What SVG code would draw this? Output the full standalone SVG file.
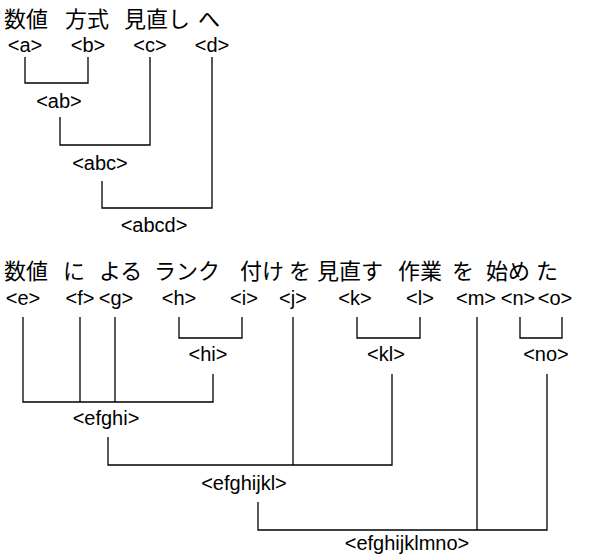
<svg xmlns="http://www.w3.org/2000/svg" width="592" height="560" viewBox="0 0 592 560">
<style>
.jp{font-family:"Noto Sans CJK JP","Noto Sans CJK SC",sans-serif;font-size:22px;fill:#000}
.lb{font-family:"Liberation Sans",Arial,sans-serif;font-size:20px;fill:#000;text-anchor:middle}
.cn{fill:none;stroke:#000;stroke-width:1.3}
</style>
<rect width="592" height="560" fill="#fff"/>
<g id="words1">
<text class="jp" x="4" y="27">数値</text>
<text class="jp" x="65" y="27">方式</text>
<text class="jp" x="124" y="27">見直し</text>
<text class="jp" x="198" y="27">へ</text>
</g>
<g id="node-a"><text class="lb" x="25" y="52">&lt;a&gt;</text></g>
<g id="node-b"><text class="lb" x="88" y="52">&lt;b&gt;</text></g>
<g id="node-c"><text class="lb" x="150" y="52">&lt;c&gt;</text></g>
<g id="node-d"><text class="lb" x="212" y="52">&lt;d&gt;</text></g>
<g id="node-ab"><text class="lb" x="59" y="108">&lt;ab&gt;</text></g>
<g id="node-abc"><text class="lb" x="100" y="170">&lt;abc&gt;</text></g>
<g id="node-abcd"><text class="lb" x="154" y="232">&lt;abcd&gt;</text></g>
<g id="words2">
<text class="jp" x="4" y="279">数値</text>
<text class="jp" x="63" y="279">に</text>
<text class="jp" x="99" y="279">よる</text>
<text class="jp" x="154" y="279">ランク</text>
<text class="jp" x="240" y="279">付け</text>
<text class="jp" x="289" y="279">を</text>
<text class="jp" x="317" y="279">見直す</text>
<text class="jp" x="398" y="279">作業</text>
<text class="jp" x="452" y="279">を</text>
<text class="jp" x="486" y="279">始め</text>
<text class="jp" x="536" y="279">た</text>
</g>
<g id="node-e"><text class="lb" x="23" y="305">&lt;e&gt;</text></g>
<g id="node-f"><text class="lb" x="80" y="305">&lt;f&gt;</text></g>
<g id="node-g"><text class="lb" x="116" y="305">&lt;g&gt;</text></g>
<g id="node-h"><text class="lb" x="179" y="305">&lt;h&gt;</text></g>
<g id="node-i"><text class="lb" x="244" y="305">&lt;i&gt;</text></g>
<g id="node-j"><text class="lb" x="293" y="305">&lt;j&gt;</text></g>
<g id="node-k"><text class="lb" x="355" y="305">&lt;k&gt;</text></g>
<g id="node-l"><text class="lb" x="420" y="305">&lt;l&gt;</text></g>
<g id="node-m"><text class="lb" x="476" y="305">&lt;m&gt;</text></g>
<g id="node-n"><text class="lb" x="518" y="305">&lt;n&gt;</text></g>
<g id="node-o"><text class="lb" x="555" y="305">&lt;o&gt;</text></g>
<g id="node-hi"><text class="lb" x="208" y="361">&lt;hi&gt;</text></g>
<g id="node-kl"><text class="lb" x="386" y="361">&lt;kl&gt;</text></g>
<g id="node-no"><text class="lb" x="546" y="361">&lt;no&gt;</text></g>
<g id="node-efghi"><text class="lb" x="106" y="425">&lt;efghi&gt;</text></g>
<g id="node-efghijkl"><text class="lb" x="244" y="490">&lt;efghijkl&gt;</text></g>
<g id="node-efghijklmno"><text class="lb" x="407" y="550">&lt;efghijklmno&gt;</text></g>
<g id="connectors">
<path class="cn" d="M25 57V83H88V57"/>
<path class="cn" d="M60 117V145H150V57"/>
<path class="cn" d="M102 181V208H212V57"/>
<path class="cn" d="M23 317V402H213V374"/>
<path class="cn" d="M80 317V402"/>
<path class="cn" d="M115 317V402"/>
<path class="cn" d="M179 317V338H242V317"/>
<path class="cn" d="M357 317V338H420V317"/>
<path class="cn" d="M520 317V338H562V317"/>
<path class="cn" d="M108 437V465H392V374"/>
<path class="cn" d="M293 317V465"/>
<path class="cn" d="M258 502V530H547V374"/>
<path class="cn" d="M477 317V530"/>
</g>
</svg>
